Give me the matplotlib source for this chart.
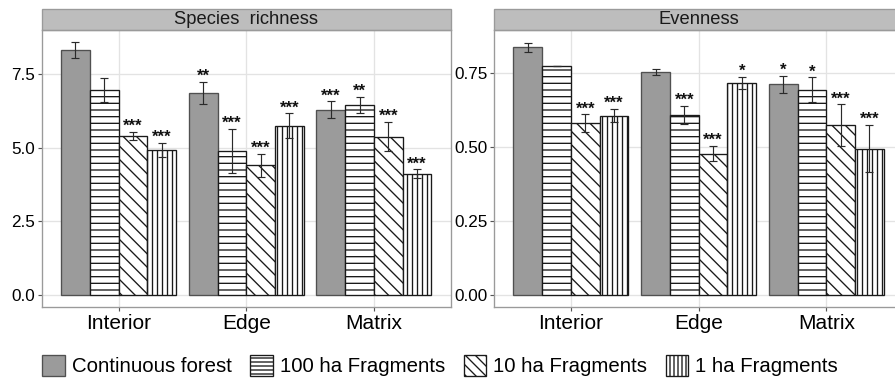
import matplotlib.pyplot as plt
from matplotlib.patches import Patch, Rectangle

plt.rcParams['font.family'] = ['Liberation Sans', 'DejaVu Sans']
plt.rcParams['hatch.linewidth'] = 0.8

# categories and treatments
sites = ['Interior', 'Edge', 'Matrix']
treatments = ['Continuous forest', '100 ha Fragments', '10 ha Fragments', '1 ha Fragments']

# species richness (mean, se) per treatment, ordered Interior, Edge, Matrix
rich_cf = [8.30, 6.85, 6.29]
rich_100 = [6.96, 4.88, 6.46]
rich_10 = [5.40, 4.40, 5.37]
rich_1 = [4.92, 5.74, 4.11]
rich_cf_se = [0.27, 0.37, 0.28]
rich_100_se = [0.40, 0.75, 0.27]
rich_10_se = [0.14, 0.38, 0.50]
rich_1_se = [0.25, 0.42, 0.15]
rich_sig = [['', '', '***', '***'],
            ['**', '***', '***', '***'],
            ['***', '**', '***', '***']]

# evenness
even_cf = [0.838, 0.755, 0.713]
even_100 = [0.775, 0.609, 0.694]
even_10 = [0.581, 0.478, 0.574]
even_1 = [0.607, 0.718, 0.495]
even_cf_se = [0.016, 0.011, 0.028]
even_100_se = [0.001, 0.030, 0.042]
even_10_se = [0.030, 0.026, 0.071]
even_1_se = [0.023, 0.020, 0.080]
even_sig = [['', '', '***', '***'],
            ['', '***', '***', '*'],
            ['*', '*', '***', '***']]

fills = ['#9b9b9b', 'white', 'white', 'white']
hatches = [None, '---', '\\\\\\', '||||']
edges = ['#505050', '#1a1a1a', '#1a1a1a', '#1a1a1a']

fig = plt.figure(figsize=(895 / 120, 381 / 120), dpi=120)

W = 0.4565
H = 0.7271
BOT = 0.1942
ax1 = fig.add_axes([0.0469, BOT, W, H])
ax2 = fig.add_axes([0.5523, BOT, W, H])


def draw_panel(ax, title, means, ses, sig, ylim, yticks, ylabels):
    bw = 0.225
    offsets = [-1.5 * bw, -0.5 * bw, 0.5 * bw, 1.5 * bw]
    for t in range(4):
        xs = [i + 1 + offsets[t] for i in range(3)]
        ax.bar(xs, means[t], width=bw, color=fills[t], edgecolor=edges[t],
               hatch=hatches[t], linewidth=0.8, zorder=2)
        ax.errorbar(xs, means[t], yerr=ses[t], fmt='none', ecolor='#2a2a2a',
                    elinewidth=0.7, capsize=2.2, capthick=0.7, zorder=3)
        for i in range(3):
            s = sig[i][t]
            if s:
                ax.annotate(s, (xs[i], means[t][i] + ses[t][i]),
                            xytext=(0, 0.6), textcoords='offset points',
                            ha='center', va='baseline', fontsize=10,
                            fontweight='bold', color='#111111', zorder=4)
    ax.set_xlim(0.4, 3.6)
    ax.set_ylim(*ylim)
    ax.set_xticks([1, 2, 3])
    ax.set_xticklabels(sites, fontsize=12.5)
    ax.set_yticks(yticks)
    ax.set_yticklabels(ylabels, fontsize=10.3)
    ax.tick_params(axis='both', length=2.5, width=0.7, color='#555555',
                   pad=1.5, labelcolor='black')
    ax.grid(True, color='#e3e3e3', linewidth=0.8)
    ax.set_axisbelow(True)
    for sp in ax.spines.values():
        sp.set_color('#9a9a9a')
        sp.set_linewidth(0.8)
    strip_h = 21 / 277
    ax.add_patch(Rectangle((0, 1), 1, strip_h, transform=ax.transAxes,
                           facecolor='#bdbdbd', edgecolor='#9a9a9a',
                           linewidth=0.8, clip_on=False))
    ax.text(0.5, 1 + strip_h / 2, title, transform=ax.transAxes,
            ha='center', va='center', fontsize=11, color='#1a1a1a')


draw_panel(ax1, 'Species  richness',
           [rich_cf, rich_100, rich_10, rich_1],
           [rich_cf_se, rich_100_se, rich_10_se, rich_1_se],
           rich_sig, (-0.407, 8.99), [0, 2.5, 5, 7.5],
           ['0.0', '2.5', '5.0', '7.5'])
draw_panel(ax2, 'Evenness',
           [even_cf, even_100, even_10, even_1],
           [even_cf_se, even_100_se, even_10_se, even_1_se],
           even_sig, (-0.0406, 0.8965), [0, 0.25, 0.5, 0.75],
           ['0.00', '0.25', '0.50', '0.75'])

leg_hatches = [None, '-----', '\\\\\\\\', '|||||']
handles = [Patch(facecolor=fills[t], edgecolor=edges[t], hatch=leg_hatches[t],
                 linewidth=0.8) for t in range(4)]
fig.legend(handles, treatments, loc='center', bbox_to_anchor=(0.4916, 0.041),
           ncol=4, frameon=False, fontsize=12.2, handlelength=1.12,
           handleheight=1.2, handletextpad=0.32, columnspacing=0.92,
           borderaxespad=0, borderpad=0)

fig.savefig('out.png', dpi=120)
